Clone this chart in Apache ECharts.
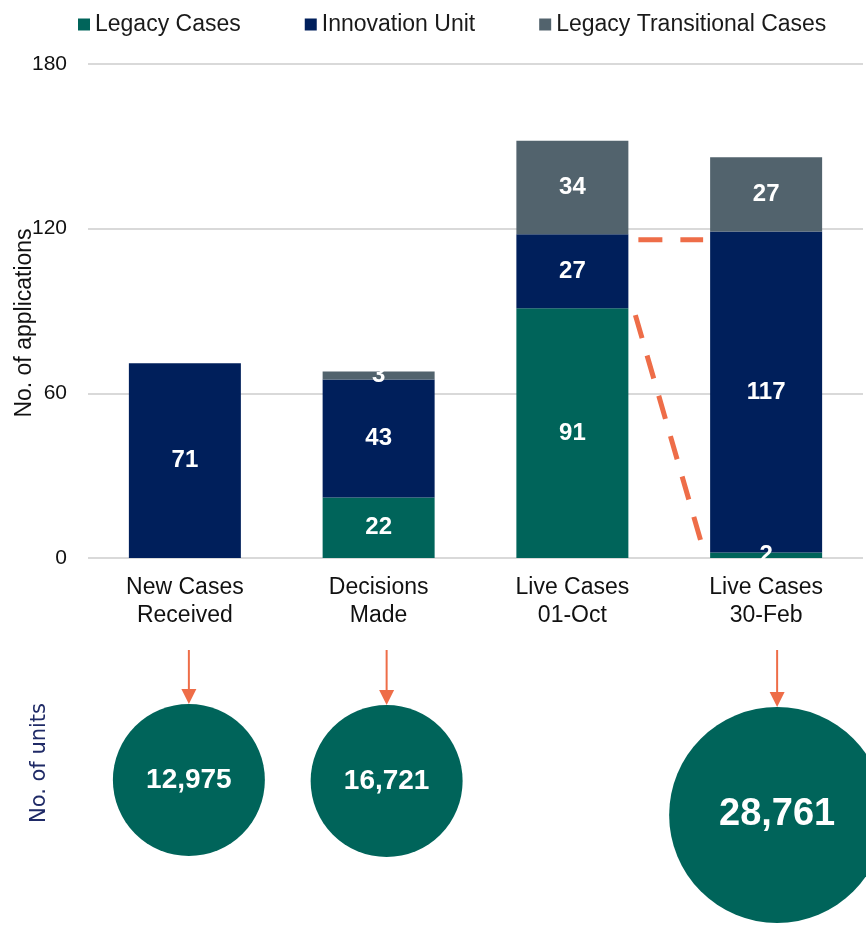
<!DOCTYPE html>
<html>
<head>
<meta charset="utf-8">
<script src="https://cdn.jsdelivr.net/npm/echarts@6/dist/echarts.min.js"></script>
<style>
html,body{margin:0;padding:0;background:#fff;}
#chart{width:866px;height:930px;}
</style>
</head>
<body>
<div id="chart"></div>
<script>
// ---- data ----
const categories = ['New Cases\nReceived', 'Decisions\nMade', 'Live Cases\n01-Oct', 'Live Cases\n30-Feb'];
const legacyCases = [null, 22, 91, 2];
const innovationUnit = [71, 43, 27, 117];
const legacyTransitional = [null, 3, 34, 27];
const seriesNames = ['Legacy Cases', 'Innovation Unit', 'Legacy Transitional Cases'];
const yTickValues = [0, 60, 120, 180];
const unitsCount = [12975, 16721, null, 28761];
const unitsAxisTitle = 'No. of units';
const applicationsAxisTitle = 'No. of applications';
// dashed connector levels (in application counts): [start, end]
const innovationConnector = [116, 116];
const legacyConnector = [88.5, 5.8];

// ---- style ----
const FONT = '"Liberation Sans", Arial, sans-serif';
const C_LEGACY = '#00645A';
const C_INNOV = '#001F5B';
const C_TRANS = '#52636D';
const C_ORANGE = '#EE6D48';
const BAR_W = 112;

const chart = echarts.init(document.getElementById('chart'), null, {renderer: 'canvas'});

const barLabel = {
  show: true, position: 'inside', color: '#fff', fontWeight: 'bold',
  fontSize: 24, fontFamily: FONT
};

const circleSizes = [152, 152, 0, 216];
const circleOffsets = [[4, 0], [8, 1], [0, 0], [11, 35]];
const circleFont = [28, 28, 0, 38];

const scatterData = [];
unitsCount.forEach((v, i) => {
  if (v == null) return;
  scatterData.push({
    value: [i, 0.5, v],
    symbolSize: circleSizes[i],
    symbolOffset: circleOffsets[i],
    label: {
      show: true, position: 'inside',
      formatter: () => v.toLocaleString('en-US'),
      color: '#fff', fontWeight: 'bold', fontSize: circleFont[i], fontFamily: FONT
    }
  });
});

const option = {
  animation: false,
  backgroundColor: '#fff',
  textStyle: {fontFamily: FONT},
  legend: {
    data: seriesNames,
    left: 73, top: 8,
    icon: 'rect', itemWidth: 12, itemHeight: 12, itemGap: 64,
    textStyle: {fontSize: 23, color: '#1a1a1a', fontFamily: FONT}
  },
  grid: [
    {left: 88, right: 3, top: 64, bottom: 372},
    {left: 88, right: 3, top: 700, height: 160}
  ],
  xAxis: [
    {
      type: 'category', data: categories, gridIndex: 0,
      axisLine: {show: false}, axisTick: {show: false},
      axisLabel: {fontSize: 23, lineHeight: 28, color: '#111', margin: 16, fontFamily: FONT}
    },
    {
      type: 'category', data: categories, gridIndex: 1, show: false
    }
  ],
  yAxis: [
    {
      type: 'value', gridIndex: 0, min: yTickValues[0], max: yTickValues[yTickValues.length - 1],
      interval: yTickValues[1] - yTickValues[0],
      axisLine: {show: false}, axisTick: {show: false},
      axisLabel: {fontSize: 21, color: '#111', margin: 21, fontFamily: FONT},
      splitLine: {lineStyle: {color: '#D9D9D9', width: 2}}
    },
    {type: 'value', gridIndex: 1, min: 0, max: 1, show: false}
  ],
  series: [
    {name: seriesNames[0], type: 'bar', stack: 'a', data: legacyCases, barWidth: BAR_W,
     itemStyle: {color: C_LEGACY}, label: barLabel},
    {name: seriesNames[1], type: 'bar', stack: 'a', data: innovationUnit, barWidth: BAR_W,
     itemStyle: {color: C_INNOV}, label: barLabel},
    {name: seriesNames[2], type: 'bar', stack: 'a', data: legacyTransitional, barWidth: BAR_W,
     itemStyle: {color: C_TRANS}, label: barLabel},
    {type: 'scatter', xAxisIndex: 1, yAxisIndex: 1, data: scatterData, clip: false,
     symbol: 'circle', itemStyle: {color: C_LEGACY, opacity: 1}, silent: true, z: 3}
  ]
};
chart.setOption(option);

// ---- annotations computed through the library's scales ----
function px(i, v) { return chart.convertToPixel({xAxisIndex: 0, yAxisIndex: 0}, [i, v]); }
const graphics = [];
const dash = [24, 18];

// horizontal dashed connector between bar 3 and bar 4
{
  const a = px(2, innovationConnector[0]);
  const b = px(3, innovationConnector[1]);
  graphics.push({type: 'line', shape: {x1: a[0] + BAR_W / 2 + 10, y1: a[1], x2: b[0] - BAR_W / 2 - 7, y2: b[1]},
    style: {stroke: C_ORANGE, lineWidth: 5, lineDash: dash}, z: 10});
}
// diagonal dashed connector
{
  const a = px(2, legacyConnector[0]);
  const b = px(3, legacyConnector[1]);
  graphics.push({type: 'line', shape: {x1: a[0] + BAR_W / 2 + 7, y1: a[1], x2: b[0] - BAR_W / 2 - 9, y2: b[1]},
    style: {stroke: C_ORANGE, lineWidth: 5, lineDash: dash}, z: 10});
}
// arrows to circles
unitsCount.forEach((v, i) => {
  if (v == null) return;
  const c = chart.convertToPixel({xAxisIndex: 1, yAxisIndex: 1}, [i, 0.5]);
  const cx = c[0] + circleOffsets[i][0];
  const cy = c[1] + circleOffsets[i][1];
  const top = cy - circleSizes[i] / 2;
  graphics.push({type: 'line', shape: {x1: cx, y1: 650, x2: cx, y2: top - 12},
    style: {stroke: C_ORANGE, lineWidth: 2}, z: 10});
  graphics.push({type: 'polygon', shape: {points: [[cx - 7.5, top - 15], [cx + 7.5, top - 15], [cx, top]]},
    style: {fill: C_ORANGE}, z: 10});
});
// axis titles
graphics.push({type: 'text', rotation: Math.PI / 2, x: 25, y: 323,
  style: {text: applicationsAxisTitle, fontSize: 23, fontFamily: FONT, fill: '#111',
    textAlign: 'center', textVerticalAlign: 'middle'}, z: 10});
graphics.push({type: 'text', rotation: Math.PI / 2, x: 40, y: 763,
  style: {text: unitsAxisTitle, fontSize: 21, fontFamily: '"DejaVu Sans", sans-serif', fill: '#1F2A66',
    textAlign: 'center', textVerticalAlign: 'middle'}, z: 10});

chart.setOption({graphic: graphics});
</script>
</body>
</html>
